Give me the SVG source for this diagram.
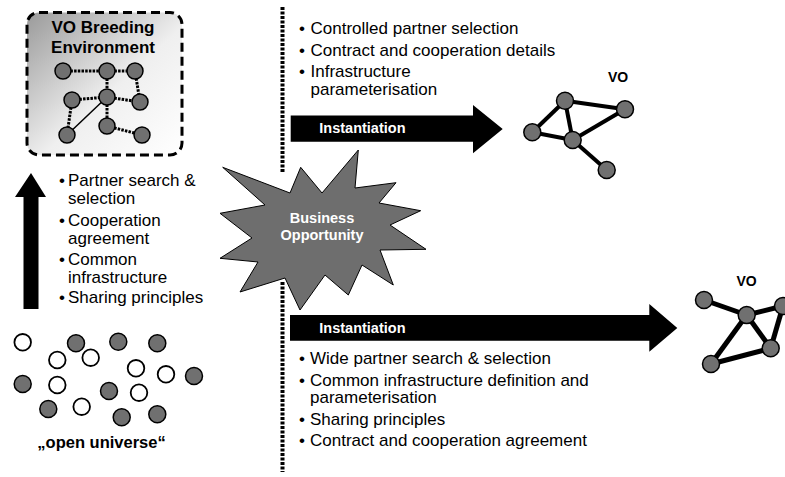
<svg xmlns="http://www.w3.org/2000/svg" width="785" height="477" viewBox="0 0 785 477">
<defs>
<linearGradient id="benGrad" x1="0" y1="0" x2="1" y2="1">
<stop offset="0" stop-color="#9a9a9a"/>
<stop offset="0.55" stop-color="#efefef"/>
<stop offset="1" stop-color="#ffffff"/>
</linearGradient>
</defs>
<style>
.t{font-family:"Liberation Sans",Arial,sans-serif;font-size:17px;fill:#000}
.b{font-family:"Liberation Sans",Arial,sans-serif;font-weight:bold;fill:#000}
.w{font-family:"Liberation Sans",Arial,sans-serif;font-weight:bold;fill:#fff;font-size:14.5px}
.bul{font-family:"Liberation Sans",Arial,sans-serif;font-size:17px;text-anchor:middle}
.gn{fill:#707070;stroke:#000;stroke-width:1.5}
.wn{fill:#fff;stroke:#000;stroke-width:1.8}
.dot{stroke:#000;stroke-width:3;stroke-dasharray:2.5 1.2;fill:none}
.vo{stroke:#000;stroke-width:4;fill:none}
.vo2{stroke:#000;stroke-width:5;fill:none}
.vline{stroke:#000;stroke-width:4;stroke-dasharray:3 1.5;fill:none}
</style>

<g id="divider">
<line class="vline" x1="282.5" y1="7" x2="282.5" y2="173"/>
<line class="vline" x1="282.5" y1="282" x2="282.5" y2="472"/>
</g>

<g id="ben">
<rect x="27" y="12.5" width="155" height="142.5" rx="12" ry="12" fill="url(#benGrad)" stroke="#000" stroke-width="3" stroke-dasharray="9 5"/>
<text class="b" x="103" y="33" font-size="17" text-anchor="middle">VO Breeding</text>
<text class="b" x="103" y="53" font-size="17" text-anchor="middle">Environment</text>
<g>
<line class="dot" x1="63" y1="71" x2="107" y2="71"/>
<line class="dot" x1="107" y1="71" x2="135" y2="71"/>
<line class="dot" x1="135" y1="71" x2="140" y2="102"/>
<line class="dot" x1="107" y1="71" x2="107" y2="97"/>
<line class="dot" x1="72" y1="100" x2="107" y2="97"/>
<line class="dot" x1="107" y1="97" x2="140" y2="102"/>
<line class="dot" x1="72" y1="100" x2="67" y2="135"/>
<line x1="107" y1="97" x2="67" y2="135" stroke="#000" stroke-width="1.5"/>
<line class="dot" x1="107" y1="97" x2="107" y2="126"/>
<line class="dot" x1="107" y1="126" x2="142" y2="135"/>
</g>
<circle class="gn" cx="63" cy="71" r="8"/>
<circle class="gn" cx="107" cy="71" r="8"/>
<circle class="gn" cx="135" cy="71" r="8"/>
<circle class="gn" cx="72" cy="100" r="8"/>
<circle class="gn" cx="107" cy="97" r="8"/>
<circle class="gn" cx="140" cy="102" r="8"/>
<circle class="gn" cx="67" cy="135" r="8"/>
<circle class="gn" cx="107" cy="126" r="8"/>
<circle class="gn" cx="142" cy="135" r="8"/>
</g>

<g id="up-arrow">
<polygon points="31,173 46,197 38.5,197 38.5,309 23.5,309 23.5,197 15,197" fill="#000"/>
</g>

<g id="ben-list">
<text class="bul" x="62" y="186">•</text>
<text class="t" x="68" y="186">Partner search &amp;</text>
<text class="t" x="68" y="204">selection</text>
<text class="bul" x="62" y="226">•</text>
<text class="t" x="68" y="226">Cooperation</text>
<text class="t" x="68" y="244">agreement</text>
<text class="bul" x="62" y="264.5">•</text>
<text class="t" x="68" y="264.5">Common</text>
<text class="t" x="68" y="282.5">infrastructure</text>
<text class="bul" x="62" y="303">•</text>
<text class="t" x="68" y="303">Sharing principles</text>
</g>

<g id="open-universe">
<circle class="wn" cx="22.7" cy="342.3" r="8.3"/>
<circle class="wn" cx="57.3" cy="360" r="8.3"/>
<circle class="wn" cx="90.7" cy="357.7" r="8.3"/>
<circle class="wn" cx="57.3" cy="385" r="8.3"/>
<circle class="wn" cx="81.7" cy="406.7" r="8.3"/>
<circle class="wn" cx="136" cy="368.3" r="8.3"/>
<circle class="wn" cx="166" cy="374.3" r="8.3"/>
<circle class="wn" cx="139" cy="392.7" r="8.3"/>
<circle class="gn" cx="76" cy="343.3" r="8.5"/>
<circle class="gn" cx="118.3" cy="341.7" r="8.5"/>
<circle class="gn" cx="157.3" cy="343.3" r="8.5"/>
<circle class="gn" cx="22.7" cy="384" r="8.5"/>
<circle class="gn" cx="194" cy="376" r="8.5"/>
<circle class="gn" cx="109" cy="391" r="8.5"/>
<circle class="gn" cx="48.3" cy="409" r="8.5"/>
<circle class="gn" cx="121.7" cy="417.3" r="8.5"/>
<circle class="gn" cx="157.3" cy="414.3" r="8.5"/>
<text class="b" x="101.5" y="448" font-size="16.5" text-anchor="middle">„open universe“</text>
</g>

<g id="business-opportunity">
<polygon points="222.7,167.3 290,193 300.7,167.3 322,193 358.3,150 355,188 396,182.7 379,203 420.7,210.7 390,225 426,249.3 380,250 393.3,285 362,265 348.3,295 325,275 300,310 285,278 240,292 258,262 220,258.3 252,238 220,213.3 265,205" fill="#6e6e6e" stroke="#000" stroke-width="1"/>
<text class="w" x="322" y="222.7" text-anchor="middle">Business</text>
<text class="w" x="322" y="240" text-anchor="middle">Opportunity</text>
</g>

<g id="upper-list">
<text class="bul" x="302" y="34">•</text>
<text class="t" x="310.5" y="34">Controlled partner selection</text>
<text class="bul" x="302" y="55.5">•</text>
<text class="t" x="310.5" y="55.5">Contract and cooperation details</text>
<text class="bul" x="302" y="77">•</text>
<text class="t" x="310.5" y="77">Infrastructure</text>
<text class="t" x="310.5" y="94.5">parameterisation</text>
</g>

<g id="upper-instantiation">
<polygon points="290.7,115.5 473,115.5 473,105 502.7,129 473,153.3 473,141.7 290.7,141.7" fill="#000"/>
<text class="w" x="319.3" y="133">Instantiation</text>
</g>

<g id="vo-upper">
<text class="b" x="618" y="81.5" font-size="14" text-anchor="middle">VO</text>
<line class="vo" x1="565" y1="100.7" x2="625" y2="109.3"/>
<line class="vo" x1="565" y1="100.7" x2="532.3" y2="132.3"/>
<line class="vo" x1="565" y1="100.7" x2="572.7" y2="140"/>
<line class="vo" x1="532.3" y1="132.3" x2="572.7" y2="140"/>
<line class="vo" x1="572.7" y1="140" x2="625" y2="109.3"/>
<line class="vo" x1="572.7" y1="140" x2="606.7" y2="170"/>
<circle class="gn" cx="565" cy="100.7" r="8.5"/>
<circle class="gn" cx="625" cy="109.3" r="8.5"/>
<circle class="gn" cx="532.3" cy="132.3" r="8.5"/>
<circle class="gn" cx="572.7" cy="140" r="8.5"/>
<circle class="gn" cx="606.7" cy="170" r="8.5"/>
</g>

<g id="lower-instantiation">
<polygon points="290,315 649.3,315 649.3,304 677.3,328 649.3,351.7 649.3,340.7 290,340.7" fill="#000"/>
<text class="w" x="319.3" y="333.3">Instantiation</text>
</g>

<g id="lower-list">
<text class="bul" x="302" y="363.5">•</text>
<text class="t" x="310" y="363.5">Wide partner search &amp; selection</text>
<text class="bul" x="302" y="385.5">•</text>
<text class="t" x="310" y="385.5">Common infrastructure definition and</text>
<text class="t" x="310" y="403">parameterisation</text>
<text class="bul" x="302" y="424.5">•</text>
<text class="t" x="310" y="424.5">Sharing principles</text>
<text class="bul" x="302" y="445.5">•</text>
<text class="t" x="310" y="445.5">Contract and cooperation agreement</text>
</g>

<g id="vo-lower">
<text class="b" x="746.5" y="286" font-size="14" text-anchor="middle">VO</text>
<line class="vo2" x1="704" y1="300" x2="746.7" y2="315"/>
<line class="vo2" x1="746.7" y1="315" x2="783" y2="306"/>
<line class="vo2" x1="746.7" y1="315" x2="770.7" y2="348.3"/>
<line class="vo2" x1="746.7" y1="315" x2="711" y2="364"/>
<line class="vo2" x1="711" y1="364" x2="770.7" y2="348.3"/>
<line class="vo2" x1="783" y1="306" x2="770.7" y2="348.3"/>
<circle class="gn" cx="704" cy="300" r="8.5"/>
<circle class="gn" cx="746.7" cy="315" r="8.5"/>
<circle class="gn" cx="783" cy="306" r="8.5"/>
<circle class="gn" cx="770.7" cy="348.3" r="8.5"/>
<circle class="gn" cx="711" cy="364" r="8.5"/>
</g>
</svg>
